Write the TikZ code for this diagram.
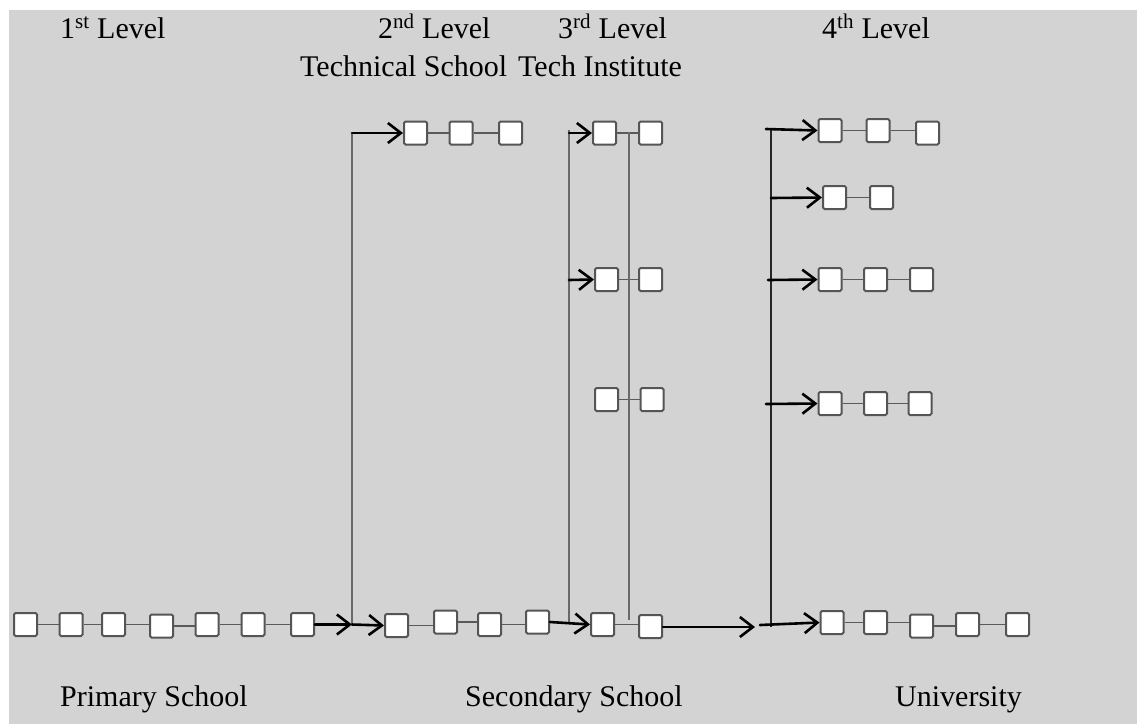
\documentclass[tikz,border=0pt]{standalone}
\usepackage{fontspec}
\setmainfont{Liberation Serif}
\usetikzlibrary{arrows.meta}

\definecolor{panel}{RGB}{211,211,211}
\definecolor{boxline}{RGB}{85,85,85}
\definecolor{linkgray}{RGB}{90,90,90}
\definecolor{railgray}{RGB}{105,105,105}

\tikzset{
  bx/.style={draw=boxline, fill=white, line width=2pt, minimum size=23pt,
             inner sep=0pt, rounded corners=1.5pt},
  link/.style={draw=linkgray, line width=1.6pt},
  rail/.style={draw=railgray, line width=2pt},
  rail4/.style={draw=black!85, line width=1.6pt},
  arr/.style={draw=black, line width=2.6pt, line cap=round,
              -{Straight Barb[length=13pt,width=20pt]}},
  lbl/.style={inner sep=0pt, font=\fontsize{30}{36}\selectfont},
}

\begin{document}
\begin{tikzpicture}[x=1pt,y=-1pt]
\useasboundingbox (0,0) rectangle (1137,724);
\fill[panel] (9,10) rectangle (1137,724);

% headings
\node[lbl, anchor=base west] (h1) at (60,38) {1\textsuperscript{st} Level};
\node[lbl, anchor=base west] (h2) at (378,38) {2\textsuperscript{nd} Level};
\node[lbl, anchor=base west] (h3) at (558,38) {3\textsuperscript{rd} Level};
\node[lbl, anchor=base west] (h4) at (822,38) {4\textsuperscript{th} Level};
\node[lbl, anchor=base west] (n2) at (300,76) {Technical School};
\node[lbl, anchor=base west] (n3) at (518,76) {Tech Institute};
\node[lbl, anchor=base west] (b1) at (60,706) {Primary School};
\node[lbl, anchor=base west] (b2) at (465,706) {Secondary School};
\node[lbl, anchor=base west] (b3) at (895,706) {University};

% primary school chain
\node[bx] (p1) at (25.5,624.5) {};
\node[bx] (p2) at (71,624.5) {};
\node[bx] (p3) at (113.5,624.5) {};
\node[bx] (p4) at (161.5,626) {};
\node[bx] (p5) at (207,624.5) {};
\node[bx] (p6) at (253,624.5) {};
\node[bx] (p7) at (302.5,624.5) {};

% secondary school chain
\node[bx] (s1) at (396.5,625.5) {};
\node[bx] (s2) at (445.5,622) {};
\node[bx] (s3) at (489.5,624.5) {};
\node[bx] (s4) at (537.5,622) {};
\node[bx] (s5) at (602.5,624.5) {};
\node[bx] (s6) at (650.5,626.5) {};

% university chain
\node[bx] (u1) at (832,622.5) {};
\node[bx] (u2) at (875.5,622.5) {};
\node[bx] (u3) at (921.5,626) {};
\node[bx] (u4) at (967.5,624.5) {};
\node[bx] (u5) at (1017.5,624.5) {};

% technical school
\node[bx] (t1) at (415.5,133) {};
\node[bx] (t2) at (461,133) {};
\node[bx] (t3) at (510.5,133) {};

% tech institute
\node[bx] (r1) at (604.5,133) {};
\node[bx] (r2) at (650.5,133) {};
\node[bx] (c1) at (606.5,279.5) {};
\node[bx] (c2) at (650.5,279.5) {};
\node[bx] (d1) at (606.5,399.5) {};
\node[bx] (d2) at (652,399.5) {};

% university tracks
\node[bx] (e1) at (830,130.5) {};
\node[bx] (e2) at (878,130.5) {};
\node[bx] (e3) at (927.5,133) {};
\node[bx] (f1) at (834.5,197.5) {};
\node[bx] (f2) at (881.5,197.5) {};
\node[bx] (g1) at (830,279.5) {};
\node[bx] (g2) at (875.5,279.5) {};
\node[bx] (g3) at (921.5,279.5) {};
\node[bx] (k1) at (830,403.5) {};
\node[bx] (k2) at (875.5,403.5) {};
\node[bx] (k3) at (920,403.5) {};

% links inside each chain
\foreach \a/\b in {p1/p2,p2/p3,p3/p4,p4/p5,p5/p6,p6/p7,
                   s1/s2,s2/s3,s3/s4,s5/s6,
                   u1/u2,u2/u3,u3/u4,u4/u5,
                   t1/t2,t2/t3,r1/r2,c1/c2,d1/d2,
                   e1/e2,e2/e3,f1/f2,g1/g2,g2/g3,k1/k2,k2/k3}
  \draw[link] (\a.east) -- (\a.east -| \b.west);

% branch points
\coordinate (v2b) at (352,624.5);
\coordinate (v2t) at (352,133);
\coordinate (v3b) at (569,623);
\coordinate (v3t) at (569,130);
\coordinate (v3m) at (569,280);
\coordinate (w3t) at (629,132);
\coordinate (w3b) at (629,620);
\coordinate (gap) at (755,627);
\coordinate (v4s) at (760,625);
\coordinate (v4b) at (771,627);
\coordinate (v4t) at (771,128);
\coordinate (q1) at (766,129);
\coordinate (q2) at (771,198);
\coordinate (q3) at (768,280);
\coordinate (q4) at (766,404);

% second level
\draw[rail] (v2b) -- (v2t);
\draw[arr] (p7.east) -- (v2b);
\draw[arr] (v2b) -- (s1.west);
\draw[arr] (v2t) -- (t1.west);

% third level
\draw[rail] (v3b) -- (v3t);
\draw[rail] (w3t) -- (w3b);
\draw[arr] (s4.east) -- (s5.west);
\draw[arr] (v3t |- r1.west) -- (r1.west);
\draw[arr] (v3m) -- (c1.west);

% fourth level
\draw[rail4] (v4b) -- (v4t);
\draw[arr] (s6.east |- gap) -- (gap);
\draw[arr] (v4s) -- (u1.west);
\draw[arr] (q1) -- (e1.west);
\draw[arr] (q2) -- (f1.west);
\draw[arr] (q3) -- (g1.west);
\draw[arr] (q4) -- (k1.west);
\end{tikzpicture}
\end{document}
